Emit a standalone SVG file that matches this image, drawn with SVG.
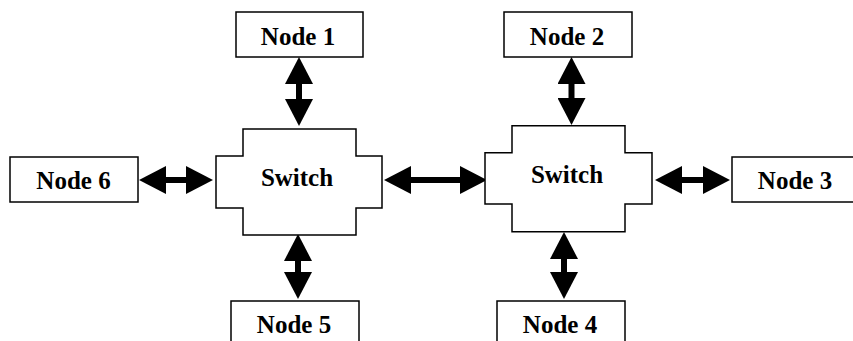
<svg xmlns="http://www.w3.org/2000/svg" width="853" height="341" viewBox="0 0 853 341">
<style>
  .box { fill: #ffffff; stroke: #000000; stroke-width: 1.5; }
  .lbl { font-family: "Liberation Serif", "Times New Roman", serif; font-weight: bold; font-size: 25px; fill: #000000; text-anchor: middle; }
  .conn { stroke: #000000; stroke-width: 6; fill: none; marker-start: url(#head); marker-end: url(#head); }
</style>
<defs>
  <marker id="head" viewBox="0 0 27 28" refX="7" refY="14" markerWidth="27" markerHeight="28" markerUnits="userSpaceOnUse" orient="auto-start-reverse">
    <path d="M0,0 L27,14 L0,28 Z" fill="#000000"/>
  </marker>
</defs>
<rect width="853" height="341" fill="#ffffff"/>
<g id="connectors">
  <line class="conn" x1="299" y1="77" x2="299" y2="106"/>
  <line class="conn" x1="571.5" y1="77" x2="571.5" y2="105"/>
  <line class="conn" x1="298" y1="254" x2="298" y2="279"/>
  <line class="conn" x1="564" y1="252" x2="564" y2="279"/>
  <line class="conn" x1="159" y1="180" x2="193" y2="180"/>
  <line class="conn" x1="404" y1="180" x2="467" y2="180"/>
  <line class="conn" x1="675" y1="180" x2="710" y2="180"/>
</g>
<g id="switch1">
  <path class="box" d="M243,129 L356,129 L356,156 L382,156 L382,208 L356,208 L356,235 L243,235 L243,208 L216,208 L216,156 L243,156 Z"/>
  <text class="lbl" x="297" y="186">Switch</text>
</g>
<g id="switch2">
  <path class="box" d="M512,125.7 L625,125.7 L625,152.7 L652,152.7 L652,204 L625,204 L625,231.7 L512,231.7 L512,204 L485,204 L485,152.7 L512,152.7 Z"/>
  <text class="lbl" x="567" y="183">Switch</text>
</g>
<g id="node1">
  <rect class="box" x="236" y="12" width="127" height="45"/>
  <text class="lbl" x="298" y="45">Node 1</text>
</g>
<g id="node2">
  <rect class="box" x="504" y="12" width="128" height="45"/>
  <text class="lbl" x="567" y="45">Node 2</text>
</g>
<g id="node3">
  <rect class="box" x="732" y="157" width="130" height="45"/>
  <text class="lbl" x="795" y="189">Node 3</text>
</g>
<g id="node4">
  <rect class="box" x="497" y="301" width="128" height="50"/>
  <text class="lbl" x="560" y="333">Node 4</text>
</g>
<g id="node5">
  <rect class="box" x="231" y="301" width="128" height="50"/>
  <text class="lbl" x="294" y="333">Node 5</text>
</g>
<g id="node6">
  <rect class="box" x="10" y="157" width="128" height="45"/>
  <text class="lbl" x="73.5" y="188.5">Node 6</text>
</g>
</svg>
